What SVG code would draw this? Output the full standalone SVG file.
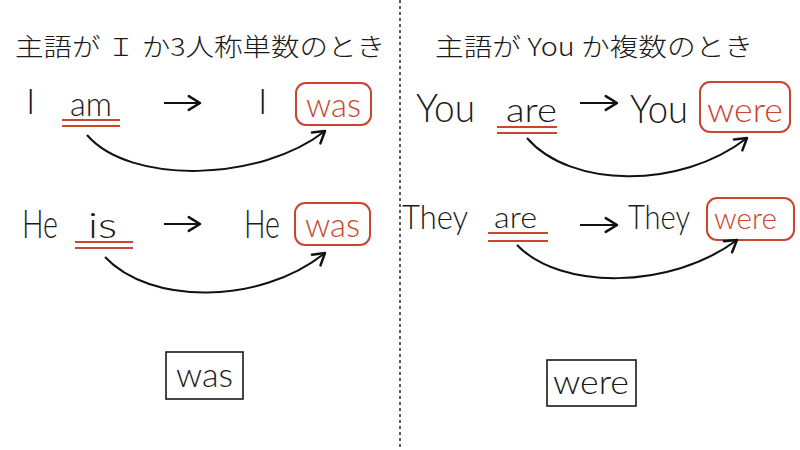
<svg xmlns="http://www.w3.org/2000/svg" width="800" height="450" viewBox="0 0 800 450">
<defs>
<style>
.t{font-family:"Lato","Open Sans","Liberation Sans",sans-serif;font-weight:300;fill:#1a1a1a}
.r{fill:#c9452e}
.ti{font-family:"Noto Sans CJK JP","Noto Sans",sans-serif;font-weight:300;font-size:25px;fill:#1a1a1a}
.ul{stroke:#c9452e;stroke-width:2;fill:none}
.rb{stroke:#c9452e;stroke-width:2;fill:none}
.bb{stroke:#1a1a1a;stroke-width:1.6;fill:none}
.cv{stroke:#111;stroke-width:2;fill:none;marker-end:url(#ah)}
.sa{stroke:#111;stroke-width:2;fill:none;marker-end:url(#ah)}
</style>
<marker id="ah" markerUnits="userSpaceOnUse" markerWidth="20" markerHeight="20" viewBox="-12 -8 14 16" refX="0" refY="0" orient="auto">
<path d="M-9,-5.5 L0,0 L-9,5.5" stroke="#111" stroke-width="2" fill="none" stroke-linecap="round" stroke-linejoin="round"/>
</marker>
</defs>
<rect width="800" height="450" fill="#fff"/>
<line x1="400" y1="0" x2="400" y2="450" stroke="#333" stroke-width="1.6" stroke-dasharray="3,3"/>

<g id="title-left"><text class="ti" x="15" y="56" textLength="370" lengthAdjust="spacingAndGlyphs">主語が Ｉ か3人称単数のとき</text></g>
<g id="title-right"><text class="ti" x="435" y="56" textLength="318" lengthAdjust="spacingAndGlyphs">主語が You か複数のとき</text></g>

<g id="row1-left">
<text class="t" x="26" y="114" font-size="36">I</text>
<text class="t" x="70" y="116" font-size="34" textLength="42" lengthAdjust="spacingAndGlyphs">am</text>
<line class="ul" x1="62" y1="120" x2="120" y2="120"/>
<line class="ul" x1="62" y1="126" x2="120" y2="126"/>
<text class="t" x="258" y="114" font-size="36">I</text>
<rect class="rb" x="296" y="83" width="75" height="42" rx="10"/>
<text class="t r" x="306" y="117" font-size="34" textLength="55" lengthAdjust="spacingAndGlyphs">was</text>
</g>

<g id="row2-left">
<text class="t" x="22" y="238" font-size="40" textLength="36" lengthAdjust="spacingAndGlyphs">He</text>
<text class="t" x="88" y="238" font-size="36" textLength="29" lengthAdjust="spacingAndGlyphs">is</text>
<line class="ul" x1="75" y1="242" x2="133" y2="242"/>
<line class="ul" x1="75" y1="248" x2="133" y2="248"/>
<text class="t" x="244" y="238" font-size="40" textLength="36" lengthAdjust="spacingAndGlyphs">He</text>
<rect class="rb" x="295" y="203" width="75" height="42" rx="10"/>
<text class="t r" x="305" y="237" font-size="34" textLength="55" lengthAdjust="spacingAndGlyphs">was</text>
</g>

<g id="row1-right">
<text class="t" x="416" y="122" font-size="40" textLength="59" lengthAdjust="spacingAndGlyphs">You</text>
<text class="t" x="506" y="122" font-size="34" textLength="51" lengthAdjust="spacingAndGlyphs">are</text>
<line class="ul" x1="497" y1="127" x2="557" y2="127"/>
<line class="ul" x1="497" y1="133" x2="557" y2="133"/>
<text class="t" x="630" y="123" font-size="40" textLength="58" lengthAdjust="spacingAndGlyphs">You</text>
<rect class="rb" x="700" y="82" width="90" height="50" rx="10"/>
<text class="t r" x="707" y="122" font-size="34" textLength="76" lengthAdjust="spacingAndGlyphs">were</text>
</g>

<g id="row2-right">
<text class="t" x="402" y="229" font-size="34" textLength="66" lengthAdjust="spacingAndGlyphs">They</text>
<text class="t" x="494" y="228" font-size="30" textLength="43" lengthAdjust="spacingAndGlyphs">are</text>
<line class="ul" x1="488" y1="233" x2="548" y2="233"/>
<line class="ul" x1="488" y1="241" x2="548" y2="241"/>
<text class="t" x="628" y="229" font-size="34" textLength="62" lengthAdjust="spacingAndGlyphs">They</text>
<rect class="rb" x="707" y="198" width="87" height="42" rx="10"/>
<text class="t r" x="714" y="229" font-size="30" textLength="63" lengthAdjust="spacingAndGlyphs">were</text>
</g>

<g id="box-was">
<rect class="bb" x="166" y="352" width="77" height="47"/>
<text class="t" x="176" y="387" font-size="34" textLength="57" lengthAdjust="spacingAndGlyphs">was</text>
</g>
<g id="box-were">
<rect class="bb" x="547" y="360" width="89" height="46"/>
<text class="t" x="553" y="394" font-size="34" textLength="76" lengthAdjust="spacingAndGlyphs">were</text>
</g>

<g id="connectors">
<line class="sa" x1="164" y1="103" x2="200" y2="103"/>
<line class="sa" x1="164" y1="224" x2="200" y2="224"/>
<line class="sa" x1="580" y1="103" x2="617" y2="103"/>
<line class="sa" x1="580" y1="225" x2="617" y2="225"/>
<path class="cv" d="M87,135 C130,185 260,182 325,131"/>
<path class="cv" d="M105,257 C150,305 260,305 325,253"/>
<path class="cv" d="M527,138 C570,188 680,190 747,138"/>
<path class="cv" d="M517,245 C560,290 670,290 737,240"/>
</g>
</svg>
